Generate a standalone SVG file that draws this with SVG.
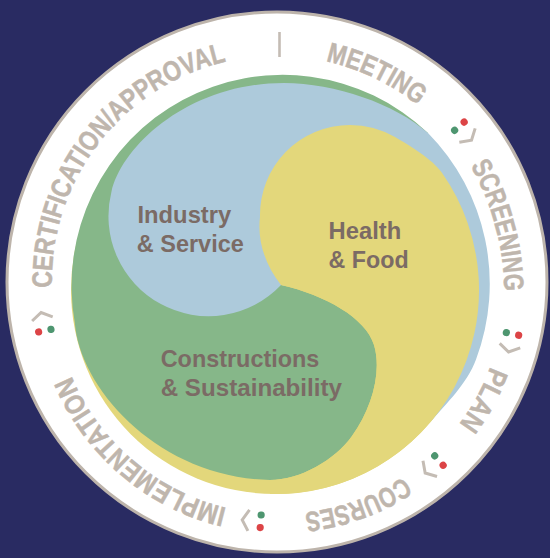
<svg xmlns="http://www.w3.org/2000/svg" xmlns:xlink="http://www.w3.org/1999/xlink" width="550" height="558" viewBox="0 0 550 558">
<style>
.ring-text{font-family:"Liberation Sans",Arial,sans-serif;font-weight:bold;font-size:28px;fill:#bfb6ad;stroke:#bfb6ad;stroke-width:0.5}
.label{font-family:"Liberation Sans",Arial,sans-serif;font-weight:bold;font-size:23.8px;fill:#7b6b65}
.chev{fill:none;stroke:#c4bcb4;stroke-width:3}
</style>
<defs>
<path id="textCircle" d="M 60.7 343.2 A 225 225 0 1 1 495.3 226.8 A 225 225 0 1 1 60.7 343.2"/>
<g id="icon">
<circle cx="0" cy="6.3" r="3.6" fill="#4e9670"/>
<circle cx="0" cy="-6.3" r="3.6" fill="#dc4446"/>
<polyline class="chev" points="12,-10.5 18.5,0 12,10.5"/>
</g>
</defs>
<rect x="0" y="0" width="550" height="558" fill="#292b62"/>
<g id="ring">
<circle cx="277" cy="282" r="270" fill="#ffffff" stroke="#bdb4ab" stroke-width="3"/>
</g>
<g id="blob">
<circle cx="275" cy="290" r="204" fill="#e3d77b"/>
<path id="constructions-shape" d="M 428 133 A 211 211 0 0 0 74.8 322.8 C 80 390 160 478 270 480 C 300 480 335 460 352 436 C 372 408 382 372 374 345 C 366 318 325 295 281 285 Z" fill="#86b789"/>
<path id="industry-shape" d="M 428 133 A 215 215 0 0 1 476 359.5 C 467 384 446.1 403.5 431.3 421.1 L 405 330 L 370 295 L 281 285 A 100 100 0 0 1 111.4 192.1 C 122 145 190 83 284 83 C 335 83 395 104 428 133 Z" fill="#adcadb"/>
<path id="health-shape" d="M 281 285 C 266 266 257 242 260 217 A 90 90 0 0 1 350 125 A 90 90 0 0 1 395 137.1 C 409.7 145.6 432.3 159.1 442.1 173 A 204 204 0 0 1 270 494 L 270 480 C 300 480 335 460 352 436 C 372 408 382 372 374 345 C 366 318 325 295 281 285 Z" fill="#e3d77b"/>
</g>
<g id="node-industry">
<text class="label" x="137.5" y="222.7" textLength="93.7" lengthAdjust="spacingAndGlyphs">Industry</text>
<text class="label" x="136.8" y="251.7" textLength="107" lengthAdjust="spacingAndGlyphs">&amp; Service</text>
</g>
<g id="node-health">
<text class="label" x="328.6" y="239.3" textLength="72.6" lengthAdjust="spacingAndGlyphs">Health</text>
<text class="label" x="328.6" y="268.3" textLength="80" lengthAdjust="spacingAndGlyphs">&amp; Food</text>
</g>
<g id="node-constructions">
<text class="label" x="160.7" y="367.3" textLength="158.6" lengthAdjust="spacingAndGlyphs">Constructions</text>
<text class="label" x="160.7" y="396.3" textLength="181.3" lengthAdjust="spacingAndGlyphs">&amp; Sustainability</text>
</g>
<g id="node-certification"><text class="ring-text"><textPath xlink:href="#textCircle" href="#textCircle" startOffset="56.2" textLength="309.4" lengthAdjust="spacingAndGlyphs">CERTIFICATION/APPROVAL</textPath></text></g>
<g id="node-meeting"><text class="ring-text"><textPath xlink:href="#textCircle" href="#textCircle" startOffset="465.7" textLength="102.9" lengthAdjust="spacingAndGlyphs">MEETING</textPath></text></g>
<g id="node-screening"><text class="ring-text"><textPath xlink:href="#textCircle" href="#textCircle" startOffset="649.1" textLength="131.2" lengthAdjust="spacingAndGlyphs">SCREENING</textPath></text></g>
<g id="node-plan"><text class="ring-text"><textPath xlink:href="#textCircle" href="#textCircle" startOffset="857.3" textLength="66" lengthAdjust="spacingAndGlyphs">PLAN</textPath></text></g>
<g id="node-courses"><text class="ring-text"><textPath xlink:href="#textCircle" href="#textCircle" startOffset="999.8" textLength="106.4" lengthAdjust="spacingAndGlyphs">COURSES</textPath></text></g>
<g id="node-implementation"><text class="ring-text"><textPath xlink:href="#textCircle" href="#textCircle" startOffset="1184.4" textLength="211.7" lengthAdjust="spacingAndGlyphs">IMPLEMENTATION</textPath></text></g>
<g id="connectors">
<line x1="279.5" y1="32" x2="279.5" y2="57" stroke="#c4bcb4" stroke-width="2.6"/>
<use xlink:href="#icon" href="#icon" transform="translate(279 283) rotate(49) translate(0 -239)"/>
<use xlink:href="#icon" href="#icon" transform="translate(279 283) rotate(102.3) translate(0 -239)"/>
<use xlink:href="#icon" href="#icon" transform="translate(279 283) rotate(138) translate(0 -239)"/>
<use xlink:href="#icon" href="#icon" transform="translate(279 283) rotate(184.4) translate(0 -239)"/>
<use xlink:href="#icon" href="#icon" transform="translate(279 283) rotate(258.5) translate(0 -239)"/>
</g>
</svg>
